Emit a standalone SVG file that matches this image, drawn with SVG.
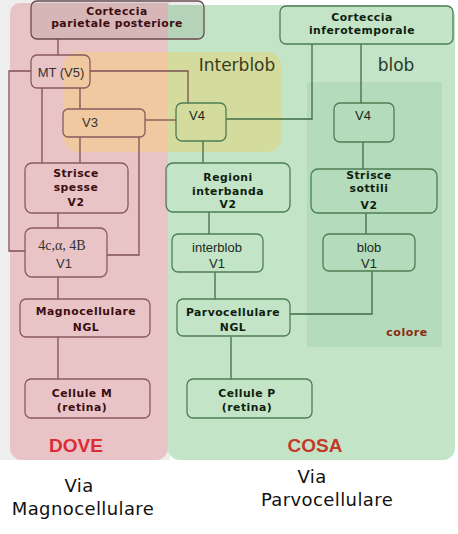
<svg xmlns="http://www.w3.org/2000/svg" width="458" height="534" viewBox="0 0 458 534">
<style>
.pn{fill:none;stroke:#8b5a5f;stroke-width:1.3}
.gn{fill:none;stroke:#4d7d54;stroke-width:1.3}
.pl{fill:none;stroke:#7d4f54;stroke-width:1.3}
.gl{fill:none;stroke:#3f6b46;stroke-width:1.3}
.bp{font-family:"DejaVu Sans",sans-serif;font-weight:bold;font-size:10.8px;letter-spacing:0.5px;fill:#3b0d10;text-anchor:middle}
.bg{font-family:"DejaVu Sans",sans-serif;font-weight:bold;font-size:10.8px;letter-spacing:0.5px;fill:#0d1f0f;text-anchor:middle}
.np{font-family:"Liberation Sans",Arial,sans-serif;font-size:13px;fill:#333;text-anchor:middle}
.ng{font-family:"Liberation Sans",Arial,sans-serif;font-size:13px;fill:#1a2a1c;text-anchor:middle}
.big{font-family:"DejaVu Sans",sans-serif;font-size:18px;letter-spacing:0.4px;fill:#111;text-anchor:middle}
</style>
<rect x="0" y="0" width="458" height="534" fill="#ffffff"/>
<rect x="0" y="0" width="170" height="460" fill="#eeeeee"/>
<g id="regions">
<path d="M168,3 H20 A10,10 0 0 0 10,13 V448 A12,12 0 0 0 22,460 H156 A12,12 0 0 0 168,448 Z" fill="#e8c4c6"/>
<path d="M168,5 H443 A12,12 0 0 1 455,17 V448 A12,12 0 0 1 443,460 H180 A12,12 0 0 1 168,448 Z" fill="#c3e4c6"/>
<rect x="307" y="82" width="135" height="265" fill="#b4dbbb"/>
<path d="M168,52 H78 A14,14 0 0 0 64,66 V138 A14,14 0 0 0 78,152 H168 Z" fill="#f1c9a0"/>
<path d="M168,52 H267 A14,14 0 0 1 281,66 V138 A14,14 0 0 1 267,152 H168 Z" fill="#d4dc9d"/>
<text x="237" y="71" font-family="DejaVu Sans,sans-serif" font-size="17" fill="#3a3a20" text-anchor="middle">Interblob</text>
<text x="396" y="71" font-family="DejaVu Sans,sans-serif" font-size="17" fill="#2a3a2a" text-anchor="middle">blob</text>
<text x="407" y="336" font-family="DejaVu Sans,sans-serif" font-size="11" font-weight="bold" letter-spacing="0.5" fill="#8b2a10" text-anchor="middle">colore</text>
<text x="76" y="452" font-family="Liberation Sans,Arial,sans-serif" font-size="19" font-weight="bold" fill="#dd2a35" text-anchor="middle">DOVE</text>
<text x="315" y="452" font-family="Liberation Sans,Arial,sans-serif" font-size="19" font-weight="bold" fill="#c23a2a" text-anchor="middle">COSA</text>
</g>
<g id="connectors">
<path class="pl" d="M58,39 V55"/>
<path class="pl" d="M31,71 H9 V251 H25"/>
<path class="pl" d="M90,71 H188 V103"/>
<path class="pl" d="M42,88 V163"/>
<path class="pl" d="M80,88 V109"/>
<path class="pl" d="M80,137 V163"/>
<path class="pl" d="M139,137 V255 H107"/>
<path class="pl" d="M145,120 H176"/>
<path class="pl" d="M58,213 V228"/>
<path class="pl" d="M58,277 V299"/>
<path class="pl" d="M58,337 V379"/>
<path class="gl" d="M226,119 H312 V44"/>
<path class="gl" d="M361,44 V103"/>
<path class="gl" d="M363,142 V169"/>
<path class="gl" d="M366,213 V234"/>
<path class="gl" d="M372,271 V314 H290"/>
<path class="gl" d="M203,141 V163"/>
<path class="gl" d="M209,212 V234"/>
<path class="gl" d="M215,272 V299"/>
<path class="gl" d="M231,337 V379"/>
</g>
<g id="parietale">
<rect x="31" y="1" width="173" height="38" rx="6" fill="#000" fill-opacity="0.07" stroke="#6b4a4f" stroke-width="1.3"/>
<text class="bp" x="117" y="15">Corteccia</text>
<text class="bp" x="117" y="27">parietale posteriore</text>
</g>
<g id="mt">
<rect class="pn" x="31" y="55" width="59" height="33" rx="6"/>
<text class="np" x="61" y="77">MT (V5)</text>
</g>
<g id="v3">
<rect class="pn" x="63" y="109" width="82" height="28" rx="5"/>
<text class="np" x="90" y="127">V3</text>
</g>
<g id="v4-interblob">
<rect class="gn" x="176" y="103" width="50" height="38" rx="6"/>
<text class="ng" x="197" y="120">V4</text>
</g>
<g id="strisce-spesse">
<rect class="pn" x="25" y="163" width="103" height="50" rx="7"/>
<text class="bp" x="76" y="177">Strisce</text>
<text class="bp" x="76" y="191">spesse</text>
<text class="bp" x="76" y="206">V2</text>
</g>
<g id="v1-magno">
<rect class="pn" x="25" y="228" width="82" height="49" rx="7"/>
<text x="62" y="250" font-family="Liberation Serif,serif" font-size="14" fill="#333" text-anchor="middle">4c,α, 4B</text>
<text class="np" x="64" y="268">V1</text>
</g>
<g id="magno-ngl">
<rect class="pn" x="20" y="299" width="130" height="38" rx="6"/>
<text class="bp" x="86" y="315">Magnocellulare</text>
<text class="bp" x="86" y="331">NGL</text>
</g>
<g id="cellule-m">
<rect class="pn" x="25" y="379" width="125" height="39" rx="6"/>
<text class="bp" x="82" y="397">Cellule M</text>
<text class="bp" x="82" y="411">(retina)</text>
</g>
<g id="inferotemporale">
<rect class="gn" x="280" y="6" width="173" height="38" rx="6" stroke="#3d6644"/>
<text class="bg" x="362" y="21">Corteccia</text>
<text class="bg" x="362" y="34">inferotemporale</text>
</g>
<g id="v4-blob">
<rect class="gn" x="334" y="103" width="60" height="39" rx="6"/>
<text class="ng" x="363" y="120">V4</text>
</g>
<g id="regioni-interbanda">
<rect class="gn" x="166" y="163" width="124" height="49" rx="7"/>
<text class="bg" x="228" y="181">Regioni</text>
<text class="bg" x="228" y="195">interbanda</text>
<text class="bg" x="228" y="208">V2</text>
</g>
<g id="interblob-v1">
<rect class="gn" x="172" y="234" width="91" height="38" rx="6"/>
<text class="ng" x="217" y="252">interblob</text>
<text class="ng" x="217" y="268">V1</text>
</g>
<g id="parvo-ngl">
<rect class="gn" x="177" y="299" width="113" height="37" rx="6"/>
<text class="bg" x="233" y="316">Parvocellulare</text>
<text class="bg" x="233" y="331">NGL</text>
</g>
<g id="strisce-sottili">
<rect class="gn" x="311" y="169" width="126" height="44" rx="7"/>
<text class="bg" x="369" y="179">Strisce</text>
<text class="bg" x="369" y="192">sottili</text>
<text class="bg" x="369" y="209">V2</text>
</g>
<g id="blob-v1">
<rect class="gn" x="323" y="234" width="92" height="37" rx="6"/>
<text class="ng" x="369" y="252">blob</text>
<text class="ng" x="369" y="268">V1</text>
</g>
<g id="cellule-p">
<rect class="gn" x="187" y="379" width="125" height="39" rx="6"/>
<text class="bg" x="247" y="397">Cellule P</text>
<text class="bg" x="247" y="411">(retina)</text>
</g>
<g id="captions">
<text class="big" x="79" y="492">Via</text>
<text class="big" x="83" y="515">Magnocellulare</text>
<text class="big" x="312" y="483">Via</text>
<text class="big" x="327" y="506">Parvocellulare</text>
</g>
</svg>
